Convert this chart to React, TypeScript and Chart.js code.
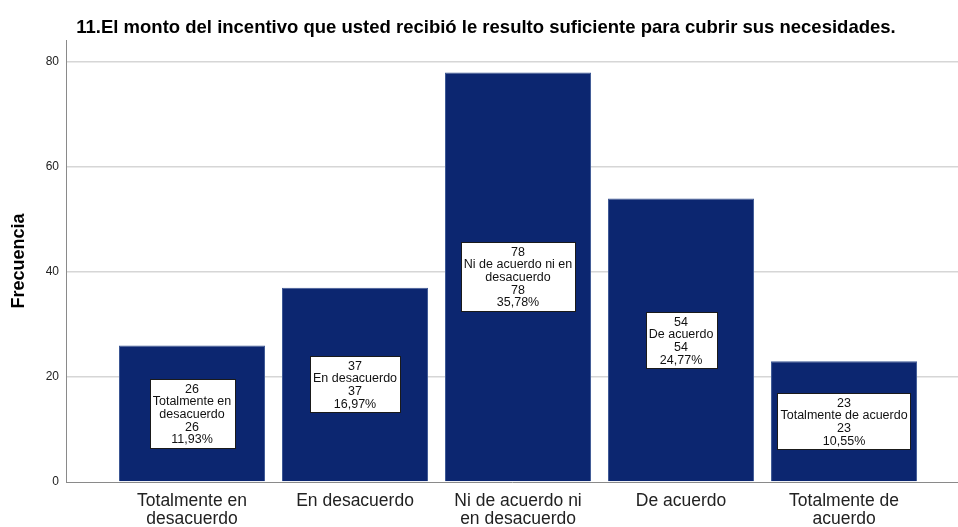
import React, { useEffect, useRef } from "react";
import { Chart, registerables } from "chart.js";

Chart.register(...registerables);

const titleText =
  "11.El monto del incentivo que usted recibió le resulto suficiente para cubrir sus necesidades.";
const axisTitle = "Frecuencia";
const categoryTicks: string[][] = [
  ["Totalmente en", "desacuerdo"],
  ["En desacuerdo"],
  ["Ni de acuerdo ni", "en desacuerdo"],
  ["De acuerdo"],
  ["Totalmente de", "acuerdo"],
];
const boxCategoryLines: string[][] = [
  ["Totalmente en", "desacuerdo"],
  ["En desacuerdo"],
  ["Ni de acuerdo ni en", "desacuerdo"],
  ["De acuerdo"],
  ["Totalmente de acuerdo"],
];
const counts = [26, 37, 78, 54, 23];
const percents = [11.93, 16.97, 35.78, 24.77, 10.55];
const yTicks = [0, 20, 40, 60, 80];

const FONT = "'Liberation Sans', Arial, Helvetica, sans-serif";

const boxLabelPlugin = {
  id: "boxLabels",
  afterDatasetsDraw(chart: any) {
    const meta = chart.getDatasetMeta(0);
    const ctx = chart.ctx;
    ctx.save();
    ctx.font = `12.5px ${FONT}`;
    ctx.textAlign = "center";
    ctx.textBaseline = "middle";
    const lineH = 12.6;
    const padH = 3;
    const padV = 3;
    meta.data.forEach((el: any, i: number) => {
      const lines = [
        String(counts[i]),
        ...boxCategoryLines[i],
        String(counts[i]),
        percents[i].toFixed(2).replace(".", ",") + "%",
      ];
      const w = Math.max(...lines.map((l) => ctx.measureText(l).width)) + padH * 2;
      const h = lines.length * lineH + padV * 2;
      const cx = el.x;
      const cy = (el.y + el.base) / 2;
      const left = Math.round(cx - w / 2) + 0.5;
      const top = Math.round(cy - h / 2) + 0.5;
      ctx.fillStyle = "#ffffff";
      ctx.fillRect(left, top, Math.round(w), Math.round(h));
      ctx.strokeStyle = "#1a1a1a";
      ctx.lineWidth = 1;
      ctx.strokeRect(left, top, Math.round(w), Math.round(h));
      ctx.fillStyle = "#111111";
      lines.forEach((l, k) => {
        ctx.fillText(l, cx, top + padV + lineH * k + lineH / 2 + 0.5);
      });
    });
    ctx.restore();
  },
};

const bgPlugin = {
  id: "bg",
  beforeDraw(chart: any) {
    const ctx = chart.ctx;
    ctx.save();
    ctx.fillStyle = "#ffffff";
    ctx.fillRect(0, 0, chart.width, chart.height);
    ctx.restore();
  },
};

export default function App() {
  const ref = useRef<HTMLCanvasElement | null>(null);
  useEffect(() => {
    if (!ref.current) return;
    const chart = new Chart(ref.current, {
      type: "bar",
      data: {
        datasets: [
          {
            data: counts.map((v, i) => ({ x: i, y: v })),
            backgroundColor: "#0c2670",
            borderColor: "#3d5894",
            borderWidth: 1,
            barPercentage: 0.896,
            categoryPercentage: 1,
          },
        ],
      },
      options: {
        animation: false,
        responsive: true,
        maintainAspectRatio: false,
        layout: { padding: { left: 14, right: 0, top: 0, bottom: 0 } },
        plugins: {
          legend: { display: false },
          tooltip: { enabled: false },
          title: {
            display: true,
            text: titleText,
            color: "#000000",
            font: { family: FONT, size: 18.5, weight: "bold", lineHeight: 1.2 },
            padding: { top: 16.5, bottom: 1.3 },
          },
        },
        scales: {
          x: {
            type: "linear",
            offset: false,
            min: -0.773,
            max: 4.699,
            afterBuildTicks: (axis: any) => {
              axis.ticks = categoryTicks.map((_, i) => ({ value: i }));
            },
            afterFit: (scale: any) => {
              scale.height = 45;
            },
            grid: { display: false, drawTicks: false, offset: false },
            border: { display: true, color: "#8a8a8a", width: 1 },
            ticks: {
              autoSkip: false,
              maxRotation: 0,
              padding: 10.5,
              color: "#222222",
              font: { family: FONT, size: 17.5, lineHeight: 1.03 },
              callback: (v: any) => categoryTicks[Math.round(Number(v))] ?? "",
            },
          },
          y: {
            type: "linear",
            min: 0,
            max: 84.2,
            afterBuildTicks: (axis: any) => {
              axis.ticks = yTicks.map((v) => ({ value: v }));
            },
            afterFit: (scale: any) => {
              scale.width = 52;
            },
            grid: {
              drawTicks: false,
              color: (c: any) => (c.tick && c.tick.value === 0 ? "rgba(0,0,0,0)" : "#d6d6d6"),
              lineWidth: 1.5,
            },
            border: { display: true, color: "#8a8a8a", width: 1 },
            ticks: {
              padding: 7,
              color: "#222222",
              font: { family: FONT, size: 12 },
            },
            title: {
              display: true,
              text: axisTitle,
              color: "#000000",
              font: { family: FONT, size: 18, weight: "bold", lineHeight: 0.6 },
              padding: { top: 0, bottom: 0 },
            },
          },
        },
      },
      plugins: [bgPlugin, boxLabelPlugin],
    } as any);
    return () => chart.destroy();
  }, []);
  return (
    <div style={{ position: "absolute", left: 0, top: 0, width: 958, height: 527, background: "#fff" }}>
      <canvas ref={ref} />
    </div>
  );
}
